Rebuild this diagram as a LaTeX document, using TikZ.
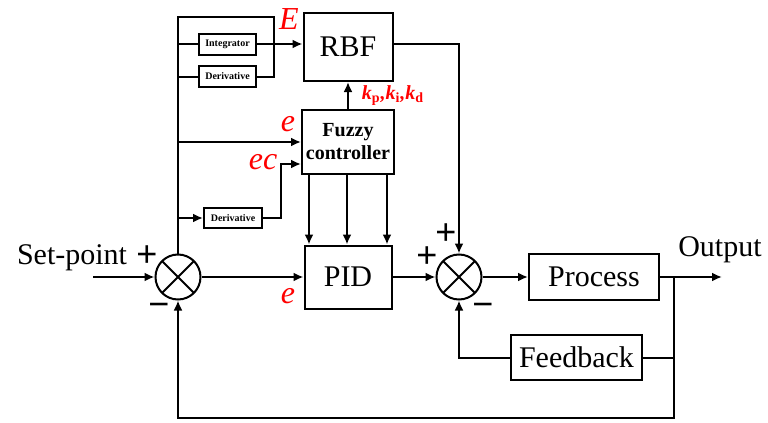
\documentclass[tikz,border=0pt]{standalone}
\usepackage{fontspec}
\setmainfont{Liberation Serif}
\newfontfamily\signfont{Liberation Sans}
\usetikzlibrary{arrows.meta,calc}

\begin{document}
\begin{tikzpicture}[x=0.5pt,y=-0.5pt,line width=1pt,>={Latex[length=5pt,width=4.5pt]},
  block/.style={draw,inner sep=0pt,font=\fontsize{15}{17}\selectfont},
  tinyblock/.style={draw,inner sep=0pt,minimum width=28.5pt,minimum height=10.5pt,font=\fontsize{5}{6}\selectfont\bfseries},
  sumnode/.style={draw,circle,minimum size=22.5pt,inner sep=0pt,
    path picture={\draw (path picture bounding box.north west) -- (path picture bounding box.south east)
      (path picture bounding box.north east) -- (path picture bounding box.south west);}},
  sig/.style={text=red,font=\fontsize{16}{18}\selectfont\itshape},
  sign/.style={inner sep=0pt,font=\fontsize{18}{18}\selectfont\signfont}]
  \useasboundingbox (0,0) rectangle (768,423);

  % blocks
  \node[block, minimum width=44.5pt, minimum height=34pt] (rbf) at (348,47) {RBF};
  \node[tinyblock] (int) at (227.5,44) {Integrator};
  \node[tinyblock] (der1) at (227.5,76.5) {Derivative};
  \node[block, minimum width=46pt, minimum height=32pt, align=center,
    font=\fontsize{10}{11.5}\selectfont\bfseries] (fz) at (348,142) {Fuzzy\\controller};
  \node[tinyblock, minimum width=29pt, minimum height=10pt] (der2) at (233,218) {Derivative};
  \node[block, minimum width=43.5pt, minimum height=31.5pt] (pid) at (348,277) {PID};
  \node[sumnode] (s1) at (178,277) {};
  \node[sumnode] (s2) at (459,277) {};
  \node[block, minimum width=65pt, minimum height=23pt] (proc) at (594,277) {Process};
  \node[block, minimum width=65.5pt, minimum height=22.5pt] (fb) at (576.5,357.5) {Feedback};

  % points of the lines
  \coordinate (in) at (93,277);
  \coordinate (bustop) at (178,17);
  \coordinate (jtop) at (274,17);
  \coordinate (ecj) at (281,164);
  \coordinate (br) at (674,277);
  \coordinate (out) at (722,277);
  \coordinate (botr) at (674,418);

  % connectors
  \draw[->] (in) -- (s1);
  \draw[->] (s1) -- (pid);
  \draw (s1.north) -- (bustop) -- (jtop) -- (jtop |- der1) -- (der1.east);
  \draw (bustop |- int) -- (int.west);
  \draw (bustop |- der1) -- (der1.west);
  \draw (int.east) -- (int.east -| jtop);
  \draw[->] (int.east -| jtop) -- (rbf.west |- int.east);
  \draw[->] (bustop |- fz) -- (fz.west);
  \draw[->] (bustop |- der2) -- (der2.west);
  \draw[->] (der2.east) -| (ecj) -- (fz.west |- ecj);
  \draw[->] (fz.north) -- (rbf.south);
  \foreach \dx in {-39,-1,39}
    \draw[->] ($(fz.south)+(\dx,0)$) -- ($(pid.north)+(\dx,0)$);
  \draw[->] (rbf.east |- int.east) -| (s2.north);
  \draw[->] (pid) -- (s2);
  \draw[->] (s2) -- (proc);
  \draw[->] (proc) -- (out);
  \draw (br) |- (fb.east);
  \draw[->] (fb.west) -| (s2.south);
  \draw[->] (br) -- (botr) -| (s1.south);

  % labels
  \node[font=\fontsize{15}{17}\selectfont] (lblset) at (72,258) {Set-point};
  \node[font=\fontsize{15}{17}\selectfont] (lblout) at (720,250) {Output};
  \node[sign] (plus1) at (147,256) {+};
  \node[sign] (minus1) at (159,310) {−};
  \node[sign] (plus2) at (427,257) {+};
  \node[sign] (plus3) at (446,234) {+};
  \node[sign] (minus2) at (483,310) {−};
  \node[sig] (lblE) at (289,19) {E};
  \node[sig] (lble1) at (288,124) {e};
  \node[sig] (lblec) at (263,162) {ec};
  \node[sig] (lble2) at (288,296) {e};
  \node[text=red, font=\fontsize{10}{12}\selectfont\bfseries\itshape] (lblk) at (393,96)
    {k\textsubscript{\upshape p},k\textsubscript{\upshape i},k\textsubscript{\upshape d}};
\end{tikzpicture}
\end{document}
